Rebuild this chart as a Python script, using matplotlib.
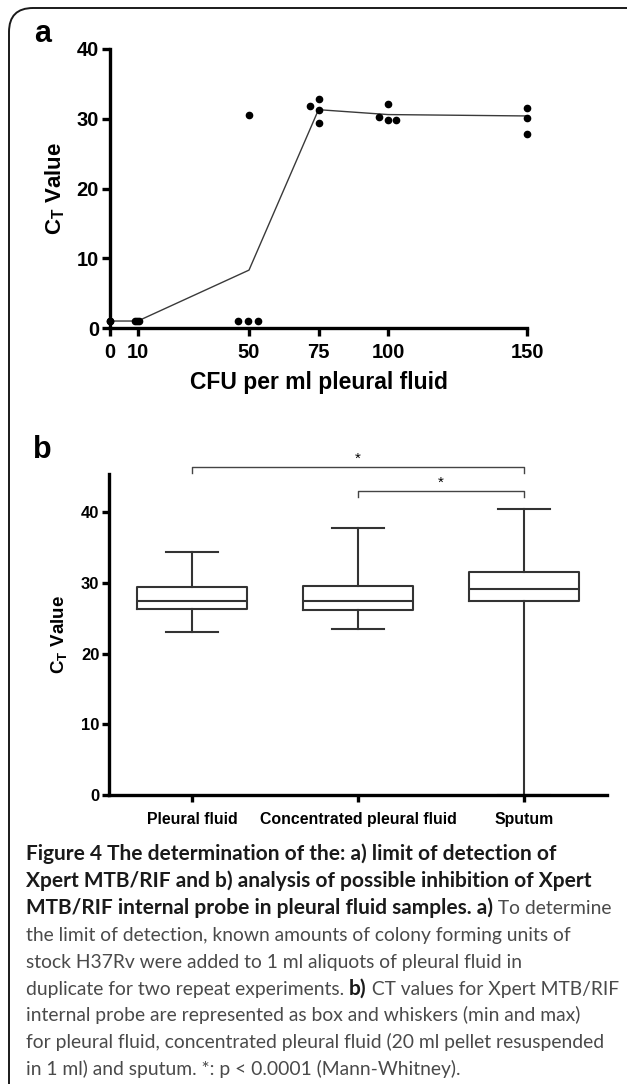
import matplotlib
matplotlib.use('Agg')
import matplotlib.pyplot as plt
from matplotlib import font_manager
from matplotlib.patches import FancyBboxPatch
from matplotlib.transforms import IdentityTransform

# ---------------- data ----------------
# Panel a: individual replicate CT values (x = CFU per ml, spread horizontally as in the figure)
pts_x = [0, 0, 9.0, 9.7, 10.4, 46, 49.6, 53.2, 50,
         72, 75, 75, 75, 96.8, 100, 100, 102.9, 150, 150, 150]
pts_y = [1, 1, 1, 1, 1, 1, 1, 1, 30.5,
         31.8, 32.8, 31.2, 29.4, 30.3, 32.1, 29.8, 29.8, 31.6, 30.1, 27.8]
# mean line
mean_x = [0, 10, 50, 75, 100, 150]
mean_y = [1, 1, 8.3, 31.3, 30.6, 30.4]
a_xticks = [0, 10, 50, 75, 100, 150]
a_yticks = [0, 10, 20, 30, 40]

# Panel b: box and whiskers (min, q1, median, q3, max)
groups = ["Pleural fluid", "Concentrated pleural fluid", "Sputum"]
whis_lo = [23.0, 23.5, 0.0]
q1 = [26.3, 26.1, 27.4]
median = [27.5, 27.4, 29.2]
q3 = [29.4, 29.5, 31.6]
whis_hi = [34.3, 37.7, 40.5]
b_yticks = [0, 10, 20, 30, 40]

caption = [
    [("Figure 4 The determination of the: a) limit of detection of", True)],
    [("Xpert MTB/RIF and b) analysis of possible inhibition of Xpert", True)],
    [("MTB/RIF internal probe in pleural fluid samples. a)", True), (" To determine", False)],
    [("the limit of detection, known amounts of colony forming units of", False)],
    [("stock H37Rv were added to 1 ml aliquots of pleural fluid in", False)],
    [("duplicate for two repeat experiments. ", False), ("b)", True), (" CT values for Xpert MTB/RIF", False)],
    [("internal probe are represented as box and whiskers (min and max)", False)],
    [("for pleural fluid, concentrated pleural fluid (20 ml pellet resuspended", False)],
    [("in 1 ml) and sputum. *: p < 0.0001 (Mann-Whitney).", False)],
]

# ---------------- style ----------------
names = {f.name for f in font_manager.fontManager.ttflist}
narrow = 'Liberation Sans Narrow' if 'Liberation Sans Narrow' in names else 'Liberation Sans'
capfont = 'Lato' if 'Lato' in names else 'Open Sans'
plt.rcParams['font.family'] = ['Liberation Sans', 'DejaVu Sans']
plt.rcParams['mathtext.fontset'] = 'custom'
plt.rcParams['mathtext.bf'] = 'Liberation Sans:bold'
plt.rcParams['mathtext.rm'] = 'Liberation Sans:bold'

W, H = 627, 1084
fig = plt.figure(figsize=(W / 100, H / 100), dpi=100)

def fx(px):
    return px / W

def fy(py):
    return 1 - py / H

# border
fig.patches.append(FancyBboxPatch((9, -60), 700, H + 60 - 8, boxstyle="round,pad=0,rounding_size=24",
                                  transform=IdentityTransform(), fill=False, ec='#1a1a1a', lw=1.4))

# ---------------- panel a ----------------
axa = fig.add_axes([fx(110), fy(328), fx(527) - fx(110), (328 - 49) / H])
axa.plot(mean_x, mean_y, color='#3a3a3a', lw=1.0, clip_on=False, zorder=2)
axa.plot(pts_x, pts_y, 'o', color='black', ms=4.5, clip_on=False, zorder=3)
axa.set_xlim(0, 150)
axa.set_ylim(0, 40)
axa.set_xticks(a_xticks)
axa.set_yticks(a_yticks)
for s in ['top', 'right']:
    axa.spines[s].set_visible(False)
for s in ['left', 'bottom']:
    axa.spines[s].set_linewidth(2.4)
axa.tick_params(width=2.4, length=6, labelsize=14.5)
axa.tick_params(axis='x', pad=5)
axa.tick_params(axis='y', pad=2)
for lab in axa.get_xticklabels() + axa.get_yticklabels():
    lab.set_fontweight('bold')
axa.set_xlabel('CFU per ml pleural fluid', fontsize=16.5, fontweight='bold', labelpad=6)
axa.set_ylabel(r'C$_\mathbf{T}$ Value', fontsize=16, fontweight='bold', labelpad=7)
fig.text(fx(43), fy(34), 'a', fontsize=22, fontweight='bold', ha='center', va='center')

# ---------------- panel b ----------------
axb = fig.add_axes([fx(109), fy(795), fx(607) - fx(109), (795 - 474) / H])
stats = [dict(whislo=whis_lo[i], q1=q1[i], med=median[i], q3=q3[i], whishi=whis_hi[i], label=groups[i])
         for i in range(len(groups))]
lc = '#333333'
axb.bxp(stats, positions=range(len(groups)), widths=0.66, capwidths=0.31, showfliers=False,
        boxprops=dict(color=lc, lw=1.5), whiskerprops=dict(color=lc, lw=1.5),
        capprops=dict(color=lc, lw=1.5), medianprops=dict(color=lc, lw=1.5))
axb.set_xlim(-0.5, 2.5)
axb.set_ylim(0, 45.4)
axb.set_yticks(b_yticks)
for s in ['top', 'right']:
    axb.spines[s].set_visible(False)
for s in ['left', 'bottom']:
    axb.spines[s].set_linewidth(2.4)
axb.tick_params(width=2.4, length=5)
axb.tick_params(axis='x', pad=7)
axb.tick_params(axis='y', pad=2)
axb.set_yticklabels([str(v) for v in b_yticks], fontsize=12, fontweight='bold', family=narrow)
axb.set_xticklabels(groups, fontsize=11.4, fontweight='bold', family=narrow)
axb.set_ylabel(r'C$_\mathbf{T}$ Value', fontsize=13.5, fontweight='bold', family=narrow, labelpad=8)
fig.text(fx(42), fy(450), 'b', fontsize=22, fontweight='bold', ha='center', va='center')

# significance brackets
def bracket(x0, x1, y, h=0.9):
    axb.plot([x0, x0, x1, x1], [y - h, y, y, y - h], color='#444444', lw=1.0, clip_on=False)
    axb.text((x0 + x1) / 2, y + 0.2, '*', ha='center', va='bottom', fontsize=11, clip_on=False)

bracket(0, 2, 46.4)
bracket(1, 2, 43.0)

# ---------------- caption ----------------
renderer = fig.canvas.get_renderer()
base0 = 860
step = 26.9
for i, line in enumerate(caption):
    xpos = 26
    ypos = base0 + i * step
    for txt, bold in line:
        t = fig.text(fx(xpos), fy(ypos), txt, fontsize=15.0 if bold else 13.9, family=capfont,
                     fontweight='bold' if bold else 'normal',
                     color='#1a1a1a' if bold else '#4a4a4a', ha='left', va='baseline')
        ext = t.get_window_extent(renderer)
        xpos += ext.width

fig.savefig('out.png', dpi=100)
